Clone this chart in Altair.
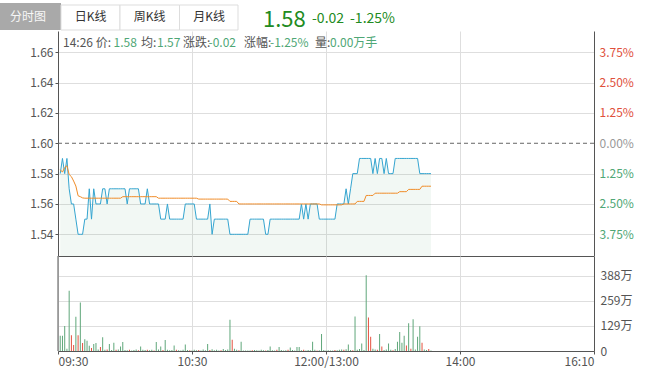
import altair as alt
import pandas as pd

FONT = "Noto Sans CJK SC"

# ---------------- data ----------------
minutes = list(range(1, 168))

price = (
    [1.58, 1.59, 1.58, 1.59, 1.57, 1.56, 1.56, 1.55, 1.54, 1.54,
     1.54, 1.55, 1.55, 1.57, 1.55, 1.57, 1.56, 1.56, 1.56, 1.57,
     1.57, 1.56]
    + [1.57] * 8 + [1.56] + [1.57] * 5 + [1.56] * 3 + [1.57] + [1.56] * 5
    + [1.55] * 3 + [1.56] + [1.55] * 7 + [1.56] * 5 + [1.55] * 6 + [1.56, 1.54]
    + [1.55] * 7 + [1.54] * 9 + [1.55] * 7 + [1.54] * 2 + [1.55] * 14
    + [1.56, 1.55, 1.56, 1.55] + [1.56] * 4 + [1.55] * 8 + [1.56] * 4
    + [1.57, 1.56, 1.57] + [1.58] * 3 + [1.59] * 6 + [1.58, 1.59, 1.58]
    + [1.59] * 2 + [1.58, 1.59] + [1.58] * 3 + [1.59] * 11 + [1.58] * 6
)

avg_price = (
    [1.5826, 1.581, 1.584, 1.5852, 1.5794, 1.578, 1.5751, 1.5718, 1.5654, 1.5648, 1.5640]
    + [1.5638] * 17 + [1.5648] * 16 + [1.5638] * 18 + [1.5632] * 14
    + [1.5617] * 4 + [1.5600] * 37 + [1.5594] * 10 + [1.5600] * 6
    + [1.5617] * 4 + [1.5656] * 4 + [1.5671] * 11 + [1.5681] * 4
    + [1.5696] * 6 + [1.5717] * 5
)

volume_wan = [
    78, 78, 129, 12, 310, 81, 31, 176, 81, 250,
    41, 61, 53, 27, 15, 36, 41, 8, 20, 71,
    6, 8, 36, 5, 43, 6, 8, 23, 46, 5,
    4, 6, 3, 5, 8, 4, 23, 6, 5, 7,
    4, 6, 3, 46, 8, 23, 5, 56, 6, 4,
    5, 28, 7, 4, 3, 6, 33, 5, 4, 3,
    6, 4, 5, 3, 8, 4, 36, 5, 9, 4,
    6, 3, 4, 10, 5, 8, 161, 58, 12, 6,
    4, 48, 3, 3, 2, 3, 4, 5, 4, 3,
    6, 4, 3, 5, 23, 4, 3, 6, 20, 5,
    3, 4, 6, 18, 5, 3, 20, 20, 4, 6,
    3, 5, 4, 48, 6, 3, 4, 88, 5, 3,
    4, 2, 3, 5, 4, 6, 8, 6, 9, 33,
    5, 4, 177, 6, 10, 38, 5, 390, 172, 73,
    12, 8, 6, 88, 23, 5, 8, 38, 6, 4,
    10, 48, 98, 43, 78, 28, 143, 12, 163, 8,
    73, 128, 43, 8, 5, 10, 3,
]

volume_side = list(
    "GGGGGRRGRG" "RGGGRGGGRG" "GRGGGRGGGG" "GRGGGRGGGR" "GGRGGGRGGG"
    "GGRGGGGGRG" "GGRGGGGRGG" "GGRGGGGRGG" "RGGGGGRGGG" "GGRGGGGRGG"
    "GGRGGGGGGR" "GGGGGRGGGG" "GGGRGGGRGG" "GRGGGGGGRR" "GGRGRGGGGR"
    "GGGGGRGRGG" "GGRGGRG"
)

prev_close = [1.60]
price_ticks = [1.54, 1.56, 1.58, 1.60, 1.62, 1.64, 1.66]
volume_ticks = [0, 129.33, 258.67, 388]
time_ticks = [0, 60, 120, 180, 240]
time_labels = ["09:30", "10:30", "12:00/13:00", "14:00", "16:10"]

tab_labels = ["分时图", "日K线", "周K线", "月K线"]
quote_texts = ["1.58", "-0.02", "-1.25%"]
info_texts = ["14:26 价:", "1.58", "均:", "1.57", "涨跌:", "-0.02", "涨幅:", "-1.25%", "量:", "0.00万手"]
info_is_value = [False, True, False, True, False, True, False, True, False, True]

# ---------------- layout / styles ----------------
W, HP, HV = 536, 225, 95
P_DOM = [1.5257, 1.674]
V_DOM = [0, 489]
GREEN_TXT = "#4fa776"
RED = "#e4513f"
GREEN = "#5fa77a"
AX = "#555555"
GRID = "#dedede"

df = pd.DataFrame({
    "m": minutes, "price": price, "avg": avg_price,
    "vol": volume_wan, "side": volume_side,
})

xs = alt.Scale(domain=[0, 240], nice=False, zero=False, padding=0)
yP = alt.Scale(domain=P_DOM, nice=False, zero=False)
yV = alt.Scale(domain=V_DOM, nice=False, padding=0)

x_price = alt.X("m:Q", scale=xs, axis=alt.Axis(
    values=[60, 120, 180], labels=False, ticks=False, domainColor=AX,
    gridColor=GRID, title=None))

left_axis = alt.Axis(
    orient="left", values=price_ticks, format=".2f", tickSize=3, tickColor=AX,
    domainColor=AX, labelPadding=2, title=None,
    gridColor={"condition": {"test": "abs(datum.value - 1.6) < 0.001", "value": "transparent"},
               "value": GRID})

right_axis = alt.Axis(
    orient="right", values=price_ticks, ticks=False, grid=False, domainColor=AX,
    labelPadding=5, title=None,
    labelExpr="format(abs(datum.value - 1.6) / 1.6 * 100, '.2f') + '%'",
    labelColor={"condition": [
        {"test": "datum.value > 1.601", "value": "#e0503c"},
        {"test": "datum.value < 1.599", "value": GREEN_TXT}],
        "value": "#999999"})

area = alt.Chart(df).mark_area(color="#5aa878", opacity=0.08).encode(
    x=x_price, y=alt.Y("price:Q", scale=yP, axis=left_axis), y2=alt.datum(P_DOM[0]))
pline = alt.Chart(df).mark_line(color="#35a5d0", strokeWidth=1).encode(
    x=x_price, y=alt.Y("price:Q", scale=yP, axis=left_axis))
aline = alt.Chart(df).mark_line(color="#f08c28", strokeWidth=1).encode(
    x=x_price, y=alt.Y("avg:Q", scale=yP, axis=left_axis))
base = alt.Chart(pd.DataFrame({"pc": prev_close})).mark_rule(
    color="#666666", strokeDash=[4, 3], strokeWidth=1).encode(
    y=alt.Y("pc:Q", scale=yP, axis=left_axis))
inner = alt.layer(area, pline, aline, base)

pct = alt.Chart(df).mark_line(opacity=0).encode(
    x=x_price, y=alt.Y("price:Q", scale=yP, axis=right_axis))


def txt(s, x, y, size=12, color="#555555", align="left", baseline="middle"):
    return alt.Chart(pd.DataFrame({"t": [s]})).mark_text(
        align=align, baseline=baseline, font=FONT, fontSize=size, color=color
    ).encode(x=alt.value(x), y=alt.value(y), text="t:N")


def box(x, x2, y, y2, fill, stroke=None):
    kw = {"fill": fill}
    if stroke:
        kw["stroke"] = stroke
        kw["strokeWidth"] = 1
    return alt.Chart(pd.DataFrame({"k": [0]})).mark_rect(**kw).encode(
        x=alt.value(x), x2=alt.value(x2), y=alt.value(y), y2=alt.value(y2))


# header (positions relative to the price panel origin)
deco = [
    box(-58, 3, -28, -1, "#a9a9a9"),
    box(3, 62, -26, -1, "white", "#dddddd"),
    box(62, 121.5, -26, -1, "white", "#dddddd"),
    box(121.5, 180, -26, -1, "white", "#dddddd"),
    txt(tab_labels[0], -30, -14, 12, "#f7f7f7", "center"),
    txt(tab_labels[1], 32.5, -14, 12, "#333333", "center"),
    txt(tab_labels[2], 91.5, -14, 12, "#333333", "center"),
    txt(tab_labels[3], 151, -14, 12, "#333333", "center"),
    txt(quote_texts[0], 205, -4.5, 22, "#228b22", "left", "alphabetic"),
    txt(quote_texts[1], 254, -7.7, 14, "#228b22", "left", "alphabetic"),
    txt(quote_texts[2], 292, -7.7, 14, "#228b22", "left", "alphabetic"),
]
info_x = [5, 55.5, 83, 99, 125, 150.5, 186, 212, 257, 272]
for s, xv, isv in zip(info_texts, info_x, info_is_value):
    deco.append(txt(s, xv, 12, 12, GREEN_TXT if isv else "#555555"))

price_panel = alt.layer(inner, pct, *deco).resolve_scale(y="independent").properties(
    width=W, height=HP)

# volume panel
x_axis_vol = alt.Axis(
    values=time_ticks, labelFlush=True, gridColor=GRID, domainColor=AX,
    tickColor=AX, tickSize=3, labelPadding=2, title=None,
    labelExpr="['" + "','".join(time_labels) + "'][round(datum.value / 60)]")

bars = alt.Chart(df).mark_bar(width=1).encode(
    x=alt.X("m:Q", scale=xs, axis=x_axis_vol),
    y=alt.Y("vol:Q", scale=yV, axis=alt.Axis(
        orient="right", values=volume_ticks, ticks=False, domainColor=AX,
        gridColor=GRID, labelPadding=6, title=None,
        labelExpr="datum.value == 0 ? '0' : format(datum.value, '.0f') + '万'")),
    color=alt.Color("side:N", scale=alt.Scale(domain=["G", "R"], range=[GREEN, RED]),
                    legend=None))
edge = alt.Chart(pd.DataFrame({"e": [0]})).mark_rule(color=AX, strokeWidth=1).encode(
    x=alt.X("e:Q", scale=xs, axis=x_axis_vol))

vol_panel = alt.layer(bars, edge).properties(width=W, height=HV)

chart = alt.vconcat(price_panel, vol_panel, spacing=0, bounds="flush").properties(
    padding={"left": 0, "top": 3, "right": 5, "bottom": 5}
).configure_view(stroke=None).configure_axis(
    labelFont=FONT, labelFontSize=12, labelColor="#555555"
)

chart.save("out.html", embed_options={"renderer": "svg", "actions": False})
